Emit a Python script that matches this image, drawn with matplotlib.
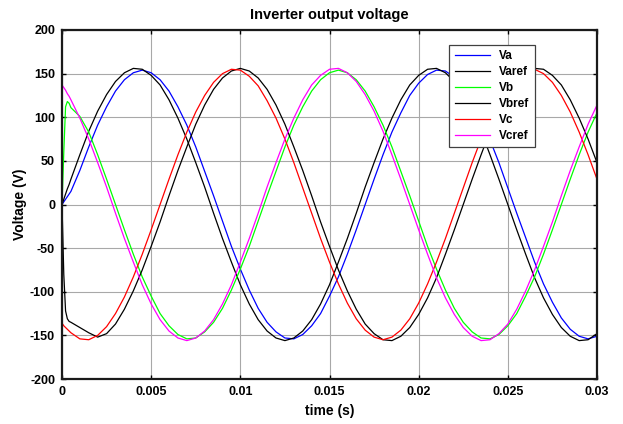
"""Inverter output voltage: phase voltages vs references."""

import matplotlib
matplotlib.use("Agg")
import matplotlib.pyplot as plt

plt.rcParams["font.family"] = ["Liberation Sans", "DejaVu Sans"]
plt.rcParams["font.weight"] = "bold"
plt.rcParams["axes.unicode_minus"] = False

# time samples (s)
t = [0, 0.0001, 0.0002, 0.0003, 0.0004,
     0.0005, 0.001, 0.0015, 0.002, 0.0025, 0.003, 0.0035, 0.004, 0.0045, 0.005,
     0.0055, 0.006, 0.0065, 0.007, 0.0075, 0.008, 0.0085, 0.009, 0.0095, 0.01,
     0.0105, 0.011, 0.0115, 0.012, 0.0125, 0.013, 0.0135, 0.014, 0.0145, 0.015,
     0.0155, 0.016, 0.0165, 0.017, 0.0175, 0.018, 0.0185, 0.019, 0.0195, 0.02,
     0.0205, 0.021, 0.0215, 0.022, 0.0225, 0.023, 0.0235, 0.024, 0.0245, 0.025,
     0.0255, 0.026, 0.0265, 0.027, 0.0275, 0.028, 0.0285, 0.029, 0.0295, 0.03]

va = [0, 3, 6, 9, 12,
      15, 39, 66, 91, 112, 130, 143, 151, 154, 151,
      143, 130, 112, 91, 66, 38, 10, -19, -48, -74,
      -98, -119, -135, -146, -153, -154, -149, -139, -125, -105,
      -83, -57, -29, 0, 29, 57, 83, 105, 125, 139,
      149, 154, 153, 146, 135, 119, 98, 74, 48, 19,
      -10, -38, -66, -91, -112, -130, -143, -151, -154, -151]

varef = [0, 6, 12, 18, 23,
         29, 57, 84, 107, 126, 141, 151, 156, 155, 148,
         137, 120, 99, 75, 48, 20, -10, -39, -66, -92,
         -114, -132, -145, -153, -156, -153, -145, -132, -114, -92,
         -66, -39, -10, 20, 48, 75, 99, 120, 137, 148,
         155, 156, 151, 141, 126, 107, 84, 57, 29, 0,
         -29, -57, -84, -107, -126, -141, -151, -156, -155, -148]

vb = [0, 60, 112, 118, 116,
      111, 101, 83, 57, 29, 0, -29, -57, -83, -105,
      -125, -139, -149, -154, -153, -146, -135, -119, -98, -74,
      -48, -19, 10, 38, 66, 91, 112, 130, 143, 151,
      154, 151, 143, 130, 112, 91, 66, 38, 10, -19,
      -48, -74, -98, -119, -135, -146, -153, -154, -149, -139,
      -125, -105, -83, -57, -29, 0, 29, 57, 83, 105]

vbref = [0, -80, -122, -131, -134,
         -135, -141, -147, -152, -148, -137, -120, -99, -75, -48,
         -20, 10, 39, 66, 92, 114, 132, 145, 153, 156,
         153, 145, 132, 114, 92, 66, 39, 10, -20, -48,
         -75, -99, -120, -137, -148, -155, -156, -151, -141, -126,
         -107, -84, -57, -29, 0, 29, 57, 84, 107, 126,
         141, 151, 156, 155, 148, 137, 120, 99, 75, 48]

vc = [-136, -139, -141, -143, -145,
      -147, -154, -155, -150, -140, -125, -106, -83, -57, -29,
      0, 29, 57, 83, 106, 125, 140, 150, 155, 154,
      147, 136, 119, 99, 75, 48, 19, -10, -39, -66,
      -91, -113, -131, -144, -152, -155, -152, -144, -131, -113,
      -91, -66, -39, -10, 19, 48, 75, 99, 119, 136,
      147, 154, 155, 150, 140, 125, 106, 83, 57, 29]

vcref = [137, 134, 131, 127, 124,
         120, 99, 75, 48, 20, -10, -39, -66, -92, -114,
         -132, -145, -153, -156, -153, -145, -132, -114, -92, -66,
         -39, -10, 20, 48, 75, 99, 120, 137, 148, 155,
         156, 151, 141, 126, 107, 84, 57, 29, 0, -29,
         -57, -84, -107, -126, -141, -151, -156, -155, -148, -137,
         -120, -99, -75, -48, -20, 10, 39, 66, 92, 114]

series = [
    ("Va", va, "#0000ff"),
    ("Varef", varef, "#000000"),
    ("Vb", vb, "#00ff00"),
    ("Vbref", vbref, "#000000"),
    ("Vc", vc, "#ff0000"),
    ("Vcref", vcref, "#ff00ff"),
]

xticks = [0, 0.005, 0.01, 0.015, 0.02, 0.025, 0.03]
xticklabels = ["0", "0.005", "0.01", "0.015", "0.02", "0.025", "0.03"]
yticks = [-200, -150, -100, -50, 0, 50, 100, 150, 200]

fig = plt.figure(figsize=(6.23, 4.24), dpi=100)
ax = fig.add_axes([62 / 623, 1 - 379 / 424, 535 / 623, 349 / 424])

for name, y, color in series:
    ax.plot(t, y, color=color, linewidth=0.9, label=name)

ax.set_xlim(0, 0.03)
ax.set_ylim(-200, 200)
ax.set_xticks(xticks)
ax.set_xticklabels(xticklabels)
ax.set_yticks(yticks)
ax.grid(True, color="#a8a8a8", linewidth=0.8, linestyle="-")
ax.set_axisbelow(True)
ax.tick_params(direction="in", length=3, labelsize=9, width=1,
               top=True, right=True, pad=5)
for lab in ax.get_xticklabels() + ax.get_yticklabels():
    lab.set_fontweight("bold")
for sp in ax.spines.values():
    sp.set_linewidth(1.6)
    sp.set_color("#1a1a1a")

ax.set_title("Inverter output voltage", fontsize=10.5, fontweight="bold", pad=8)
ax.set_xlabel("time (s)", fontsize=10, fontweight="bold", labelpad=4)
ax.set_ylabel("Voltage (V)", fontsize=10, fontweight="bold", labelpad=2)

leg = ax.legend(loc="upper right", bbox_to_anchor=(0.884, 0.957),
                borderaxespad=0, fancybox=False, framealpha=1,
                edgecolor="#404040", prop={"size": 8.5, "weight": "bold"},
                handlelength=3.0, labelspacing=0.33, borderpad=0.45,
                handletextpad=0.8)
leg.get_frame().set_linewidth(0.9)

fig.savefig("out.png", dpi=100)
plt.close(fig)
